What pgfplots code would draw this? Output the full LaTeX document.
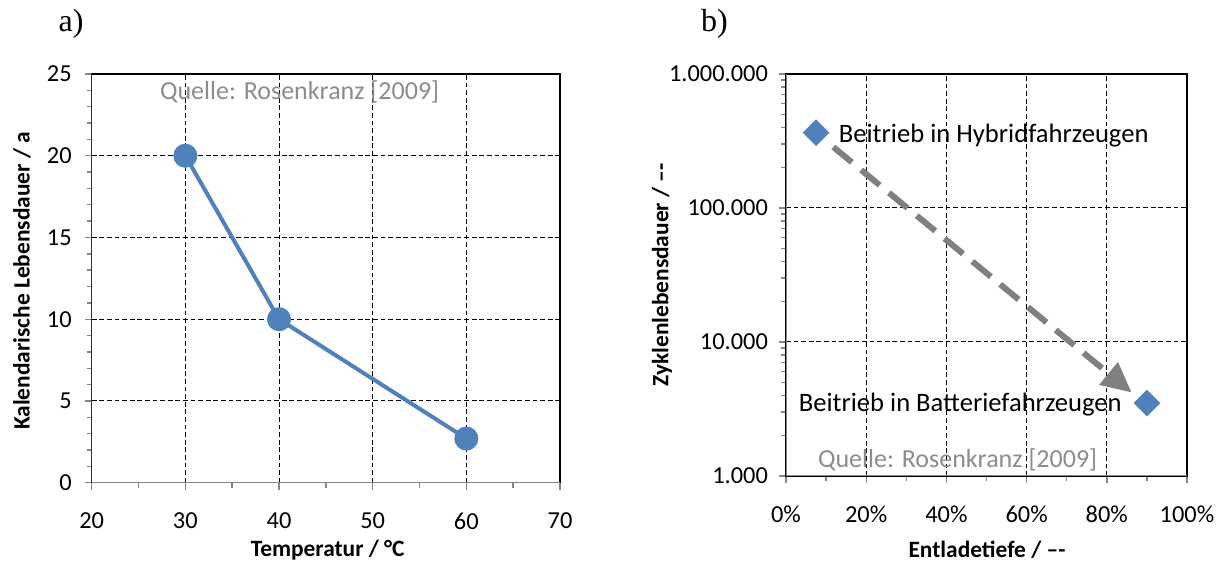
\documentclass[border=0pt]{standalone}
\usepackage{fontspec}
\setmainfont{Carlito}
\newfontfamily\timesfont{Liberation Serif}
\usepackage{pgfplots}
\pgfplotsset{compat=1.18}
\usetikzlibrary{arrows.meta}
\definecolor{xblue}{HTML}{4F81BD}
\definecolor{axisgray}{HTML}{868686}
\definecolor{srcgray}{HTML}{8C8C8C}
\definecolor{arrgray}{HTML}{808080}
\begin{document}
\begin{tikzpicture}
\path[use as bounding box] (0,0) rectangle (610.5pt,281pt);
\pgfplotsset{
 common/.style={
  scale only axis,
  /pgf/number format/assume math mode=true,
  tick align=outside,
  xtick pos=left, ytick pos=left,
  major tick length=3.5pt, minor tick length=2.5pt,
  tick style={axisgray, line width=0.7pt},
  xmajorgrids, ymajorgrids,
  major grid style={black, line width=0.5pt, dash pattern=on 2.4pt off 1.4pt},
  axis line style={black, line width=0.6pt},
  tick label style={font=\fontsize{12.2}{14}\selectfont, text=black},
 }
}
\begin{axis}[common, at={(45.85pt,39.65pt)}, anchor=south west, width=234.15pt, height=204.35pt,
 xmin=20, xmax=70, ymin=0, ymax=25, xtick={20,30,...,70}, ytick={0,5,...,25},
 minor x tick num=1, minor y tick num=4,
 xticklabel style={yshift=-8pt}, yticklabel style={xshift=-3pt}]
\addplot[xblue, line width=2pt, mark=*, mark size=5pt, mark options={fill=xblue, draw=xblue}] coordinates {(30,20) (40,10) (60,2.7)};
\node[srcgray, font=\fontsize{13}{15}\selectfont] at (axis cs:42.2,23.9) {Quelle: Rosenkranz [2009]};
\draw[axisgray, line width=0.75pt] (rel axis cs:0,1) -- (rel axis cs:0,0) -- (rel axis cs:1,0);
\end{axis}
\begin{axis}[common, at={(393pt,43pt)}, anchor=south west, width=200.5pt, height=201pt,
 xmin=0, xmax=100, ymode=log, ymin=1000, ymax=1000000,
 xtick={0,20,...,100}, minor x tick num=1,
 xticklabels={0\%,20\%,40\%,60\%,80\%,100\%},
 ytick={1000,10000,100000,1000000}, yticklabels={1.000,10.000,100.000,1.000.000},
 xticklabel style={yshift=-8pt}, yticklabel style={xshift=-2pt}]
\addplot[arrgray, line width=3pt, dash pattern=on 12pt off 6pt, -{Triangle[length=15pt,width=14pt]}] coordinates {(11.8,285000) (86.2,4200)};
\addplot[only marks, xblue, mark=square*, mark size=4.5pt, mark options={rotate=45, fill=xblue, draw=xblue}] coordinates {(7.5,365000) (90,3500)};
\node[anchor=west, inner sep=0pt, font=\fontsize{13.3}{15}\selectfont] at (axis cs:13.1,347500) {Beitrieb in Hybridfahrzeugen};
\node[anchor=east, inner sep=0pt, font=\fontsize{13.3}{15}\selectfont] at (axis cs:83.8,3390) {Beitrieb in Batteriefahrzeugen};
\node[srcgray, font=\fontsize{13}{15}\selectfont] at (axis cs:42.8,1316) {Quelle: Rosenkranz [2009]};
\draw[axisgray, line width=0.75pt] (rel axis cs:0,1) -- (rel axis cs:0,0) -- (rel axis cs:1,0);
\end{axis}
\node[font=\timesfont\fontsize{16}{18}\selectfont] at (35.5pt,269pt) {a)};
\node[font=\timesfont\fontsize{16}{18}\selectfont] at (357.25pt,269pt) {b)};
\node[rotate=90, font=\bfseries\fontsize{11.7}{13}\selectfont] at (11pt,140.5pt) {Kalendarische Lebensdauer / a};
\node[font=\bfseries\fontsize{11.7}{13}\selectfont] at (163.85pt,6pt) {Temperatur / °C};
\node[rotate=90, font=\bfseries\fontsize{11.7}{13}\selectfont] at (331pt,143.5pt) {Zyklenlebensdauer / --{}-};
\node[font=\bfseries\fontsize{11.7}{13}\selectfont] at (493.5pt,6pt) {Entladetiefe / --{}-};
\end{tikzpicture}
\end{document}
